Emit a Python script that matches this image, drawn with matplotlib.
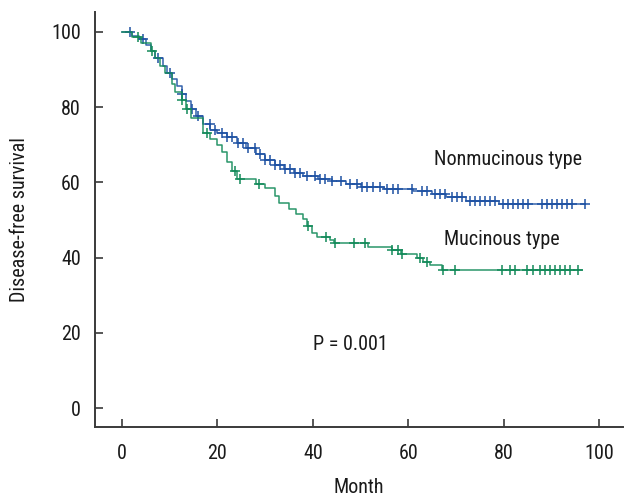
import numpy as np
import matplotlib
matplotlib.use("Agg")
import matplotlib.pyplot as plt
from matplotlib import font_manager

# Nonmucinous type (step times, survival after step)
non_t = [0, 2, 3.5, 5, 6, 7, 8.5, 9.5, 10.5, 11.5, 12.5, 13.5, 14.5, 15.5, 17, 18.5, 20, 22, 24,
         26, 28, 30, 32, 34, 36, 38, 41, 44, 47, 50, 55, 61, 65, 68, 72, 79]
non_s = [100, 99, 98, 96.5, 95, 93, 91, 89, 87.5, 85.5, 83.5, 81.5, 79.5, 77.5, 75.5, 74, 73, 72, 70.5,
         69, 67.5, 66, 64.5, 63.5, 62.5, 61.8, 61, 60.3, 59.5, 58.7, 58.3, 57.8, 57, 56, 55, 54.3]
non_end = 97.1
non_cens = [1.7, 4.5, 7.5, 10, 12.5, 14.7, 16, 18.4, 19.5, 21, 22, 23, 24.3, 25.4, 26.4, 27.9, 29, 30,
            31, 32, 33.1, 34.2, 35.2, 36.3, 37.3, 38.8, 40.5, 41.5, 42.6, 44, 46, 47.8, 49.3,
            50.3, 51.4, 52.6, 54, 55.6, 56.8, 57.9, 60.8, 62.9, 64, 65.6, 66.7, 67.7, 69.2, 70.2,
            71.3, 73, 74, 75, 76.1, 77.1, 78.2, 79.9, 80.9, 82, 83, 84.1, 85.1, 88, 89, 90.1, 91.2,
            92.2, 93.3, 94.3, 97.1]

# Mucinous type
muc_t = [0, 2, 4, 6, 7, 8, 9, 10.5, 11, 12.5, 13.5, 14.5, 17, 18.5, 20, 21, 22, 23, 24, 28, 30, 32,
         33, 35, 36.5, 38, 38.7, 39.8, 40.8, 43.5, 44.5, 51.5, 56.5, 58.5, 61.8, 63, 64.6, 67]
muc_s = [100, 98.5, 97, 95, 93, 91, 89, 86, 84, 82, 79.5, 77, 73, 71.5, 70, 68, 65.5, 63, 61, 59.5,
         58.5, 56.5, 54.5, 53, 51.5, 50.3, 48.5, 46.5, 45.5, 44.7, 43.8, 42.8, 42, 41, 39.8, 38.8,
         38, 36.7]
muc_end = 96.4
muc_cens = [3.4, 6.3, 12.6, 13.6, 17.8, 23.7, 24.7, 28.7, 39, 42.7, 44.7, 48.6, 51, 56.6, 57.9, 58.7,
            62.5, 64, 67.3, 69.8, 79.6, 81.3, 82.4, 84.9, 86.2, 87.6, 88.7, 89.7, 90.8, 91.8,
            92.9, 93.9, 95.6]

x_ticks = [0, 20, 40, 60, 80, 100]
y_ticks = [0, 20, 40, 60, 80, 100]

BLUE = "#1f52a3"
GREEN = "#138a5a"
AXC = "#3a3a3a"
TXT = "#1a1a1a"

# pick a condensed-looking font if available
names = {f.name for f in font_manager.fontManager.ttflist}
cond = [f for f in font_manager.fontManager.ttflist
        if ("Narrow" in f.name or "Condensed" in f.name) or
        (f.stretch in ("condensed", "semi-condensed") if isinstance(f.stretch, str) else f.stretch < 500)]
chosen = None
for pref in ["Liberation Sans Narrow", "DejaVu Sans Condensed", "Roboto Condensed", "Open Sans Condensed"]:
    if pref in names:
        chosen = dict(family=pref)
        break
if chosen is None:
    for f in cond:
        chosen = dict(family=f.name, stretch=f.stretch)
        break
if chosen is None:
    chosen = dict(family="Liberation Sans")
plt.rcParams["font.family"] = [chosen["family"], "DejaVu Sans"]
if "stretch" in chosen:
    plt.rcParams["font.stretch"] = chosen["stretch"]

FS = 14.5 if chosen["family"] != "Liberation Sans" else 12.5

fig = plt.figure(figsize=(6.28, 4.99), dpi=100)
ax = fig.add_axes([0.151, 0.1443, 0.841, 0.832])


def draw(t, s, tend, cens, color):
    tt = list(t) + [tend]
    ss = list(s) + [s[-1]]
    ax.step(tt, ss, where="post", color=color, lw=1.1, alpha=0.9)
    c = np.asarray(cens)
    idx = np.searchsorted(np.asarray(t), c, side="right") - 1
    cy = np.asarray(s)[idx]
    ax.plot(c, cy, ls="none", marker="+", ms=7.5, mew=1.1, color=color)


draw(non_t, non_s, non_end, non_cens, BLUE)
draw(muc_t, muc_s, muc_end, muc_cens, GREEN)

ax.set_xlim(-5.7, 105)
ax.set_ylim(-5, 105.3)
ax.set_xticks(x_ticks)
ax.set_yticks(y_ticks)
for sp in ["top", "right"]:
    ax.spines[sp].set_visible(False)
for sp in ["left", "bottom"]:
    ax.spines[sp].set_color(AXC)
    ax.spines[sp].set_linewidth(1.4)
ax.tick_params(direction="in", length=6, width=1.2, color=AXC, labelsize=FS,
               labelcolor=TXT)
ax.tick_params(axis="x", pad=12)
ax.tick_params(axis="y", pad=10)

ax.set_xlabel("Month", fontsize=FS, color=TXT, labelpad=11)
ax.set_ylabel("Disease-free survival", fontsize=FS, color=TXT, labelpad=16)

ax.text(80.9, 66, "Nonmucinous type", fontsize=FS, ha="center", va="center", color=TXT)
ax.text(79.7, 44.7, "Mucinous type", fontsize=FS, ha="center", va="center", color=TXT)
ax.text(47.8, 16.8, "P = 0.001", fontsize=FS, ha="center", va="center", color=TXT)

fig.savefig("out.png", dpi=100)
